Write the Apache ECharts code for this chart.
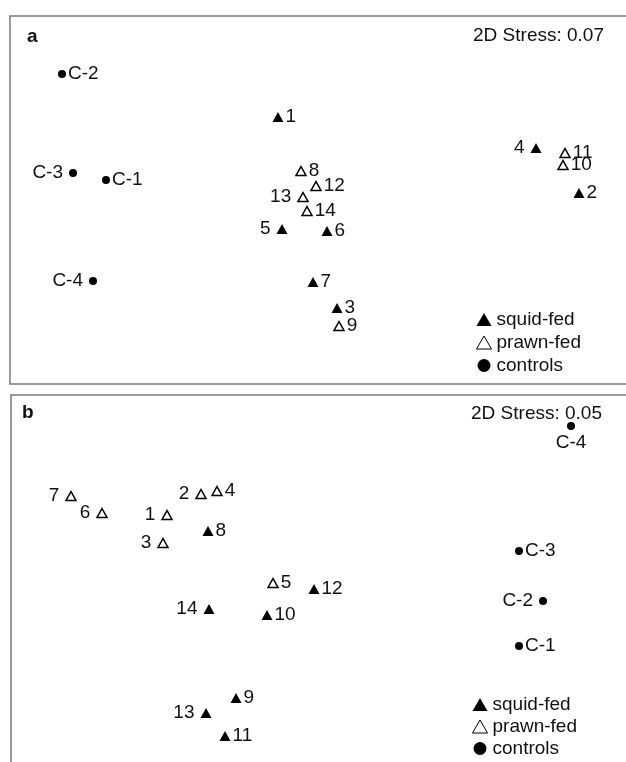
<!DOCTYPE html>
<html>
<head>
<meta charset="utf-8">
<script src="https://cdn.jsdelivr.net/npm/echarts@6/dist/echarts.min.js"></script>
<style>
  html, body { margin: 0; padding: 0; background: #fff; }
  #chart { width: 626px; height: 762px; }
</style>
</head>
<body>
<div id="chart"></div>
<script>
// nMDS ordination scores (arbitrary units), two analyses: a and b
// each entry: [sample id, dim 1, dim 2]
const squidA = [
  ['1', -0.42, 0.83], ['2', 2.59, 0.07], ['3', 0.17, -1.08], ['4', 2.16, 0.52],
  ['5', -0.38, -0.29], ['6', 0.07, -0.31], ['7', -0.07, -0.82]
];
const prawnA = [
  ['8', -0.19, 0.29], ['9', 0.19, -1.26], ['10', 2.43, 0.35], ['11', 2.45, 0.47],
  ['12', -0.04, 0.14], ['13', -0.17, 0.03], ['14', -0.13, -0.11]
];
const controlA = [
  ['C-1', -2.14, 0.20], ['C-2', -2.58, 1.26], ['C-3', -2.47, 0.27], ['C-4', -2.27, -0.81]
];

const squidB = [
  ['8', -1.13, 0.49], ['9', -0.85, -1.18], ['10', -0.54, -0.35], ['11', -0.96, -1.56],
  ['12', -0.07, -0.09], ['13', -1.15, -1.33], ['14', -1.12, -0.29]
];
const prawnB = [
  ['1', -1.54, 0.65], ['2', -1.20, 0.86], ['3', -1.58, 0.37], ['4', -1.04, 0.89],
  ['5', -0.48, -0.03], ['6', -2.19, 0.67], ['7', -2.50, 0.84]
];
const controlB = [
  ['C-1', 1.98, -0.66], ['C-2', 2.22, -0.21], ['C-3', 1.98, 0.29], ['C-4', 2.50, 1.54]
];

const stressA = 0.07;
const stressB = 0.05;
const groupNames = ['squid-fed', 'prawn-fed', 'controls'];

// which side of its marker each sample label sits on (default: right)
const labelSideA = {
  'C-3': 'left', 'C-4': 'left', '13': 'left', '5': 'left', '4': 'left'
};
const labelSideB = {
  '7': 'left', '6': 'left', '1': 'left', '2': 'left', '3': 'left',
  '14': 'left', '13': 'left', 'C-2': 'left', 'C-4': 'bottom'
};

const FONT = '"Liberation Sans", Arial, Helvetica, sans-serif';
const TXT = '#111';

function toData(rows, sides) {
  return rows.map(function (r) {
    const side = sides[r[0]] || 'right';
    return {
      name: r[0],
      value: [r[1], r[2]],
      label: {
        position: side,
        distance: side === 'left' ? 6 : (side === 'bottom' ? 3 : 2)
      }
    };
  });
}

const baseLabel = {
  show: true,
  formatter: '{b}',
  color: TXT,
  fontFamily: FONT,
  fontSize: 19
};

function makeSeries(idx, squid, prawn, ctrl, sides) {
  return [
    {
      name: groupNames[0], type: 'scatter', xAxisIndex: idx, yAxisIndex: idx,
      symbol: 'triangle', symbolSize: [11, 10],
      itemStyle: { color: '#000', opacity: 1 },
      label: baseLabel, emphasis: { disabled: true },
      data: toData(squid, sides)
    },
    {
      name: groupNames[1], type: 'scatter', xAxisIndex: idx, yAxisIndex: idx,
      symbol: 'triangle', symbolSize: [10, 9],
      itemStyle: { color: '#fff', borderColor: '#000', borderWidth: 1.5, opacity: 1 },
      label: baseLabel, emphasis: { disabled: true },
      data: toData(prawn, sides)
    },
    {
      name: groupNames[2], type: 'scatter', xAxisIndex: idx, yAxisIndex: idx,
      symbol: 'circle', symbolSize: 8,
      itemStyle: { color: '#000', opacity: 1 },
      label: baseLabel, emphasis: { disabled: true },
      data: toData(ctrl, sides)
    }
  ];
}

function hiddenAxis(idx, min, max) {
  return {
    type: 'value', gridIndex: idx, min: min, max: max,
    axisLine: { show: false }, axisTick: { show: false },
    axisLabel: { show: false }, splitLine: { show: false }
  };
}

function makeLegend(left, top, gap) {
  return {
    orient: 'vertical', left: left, top: top, padding: 0,
    itemWidth: 15, itemHeight: 13, itemGap: gap,
    selectedMode: false,
    data: [
      { name: groupNames[0], icon: 'triangle', itemStyle: { color: '#000' } },
      { name: groupNames[1], icon: 'triangle', itemStyle: { color: '#fff', borderColor: '#000', borderWidth: 1 } },
      { name: groupNames[2], icon: 'circle', itemStyle: { color: '#000' } }
    ],
    textStyle: { color: TXT, fontFamily: FONT, fontSize: 19 }
  };
}

const chart = echarts.init(document.getElementById('chart'), null, { renderer: 'canvas' });

chart.setOption({
  backgroundColor: '#fff',
  animation: false,
  title: [
    { text: 'a', left: 27, top: 27, padding: 0,
      textStyle: { fontFamily: FONT, fontSize: 19, fontWeight: 'bold', color: TXT } },
    { text: '2D Stress: ' + stressA.toFixed(2), right: 22, top: 26, padding: 0,
      textStyle: { fontFamily: FONT, fontSize: 19, fontWeight: 'normal', color: TXT } },
    { text: 'b', left: 22, top: 403, padding: 0,
      textStyle: { fontFamily: FONT, fontSize: 19, fontWeight: 'bold', color: TXT } },
    { text: '2D Stress: ' + stressB.toFixed(2), right: 24, top: 404, padding: 0,
      textStyle: { fontFamily: FONT, fontSize: 19, fontWeight: 'normal', color: TXT } }
  ],
  legend: [makeLegend(476, 310, 4), makeLegend(472, 695, 3)],
  grid: [
    { left: 10, top: 16, width: 620, height: 368, show: true, outerBoundsMode: 'none',
      borderColor: '#7a7a7a', borderWidth: 1.5, backgroundColor: 'transparent' },
    { left: 11, top: 395, width: 620, height: 370, show: true, outerBoundsMode: 'none',
      borderColor: '#7a7a7a', borderWidth: 1.5, backgroundColor: 'transparent' }
  ],
  xAxis: [hiddenAxis(0, -3.1, 3.1), hiddenAxis(1, -3.1, 3.1)],
  yAxis: [hiddenAxis(0, -1.84, 1.84), hiddenAxis(1, -1.85, 1.85)],
  series: []
    .concat(makeSeries(0, squidA, prawnA, controlA, labelSideA))
    .concat(makeSeries(1, squidB, prawnB, controlB, labelSideB))
});
</script>
</body>
</html>
